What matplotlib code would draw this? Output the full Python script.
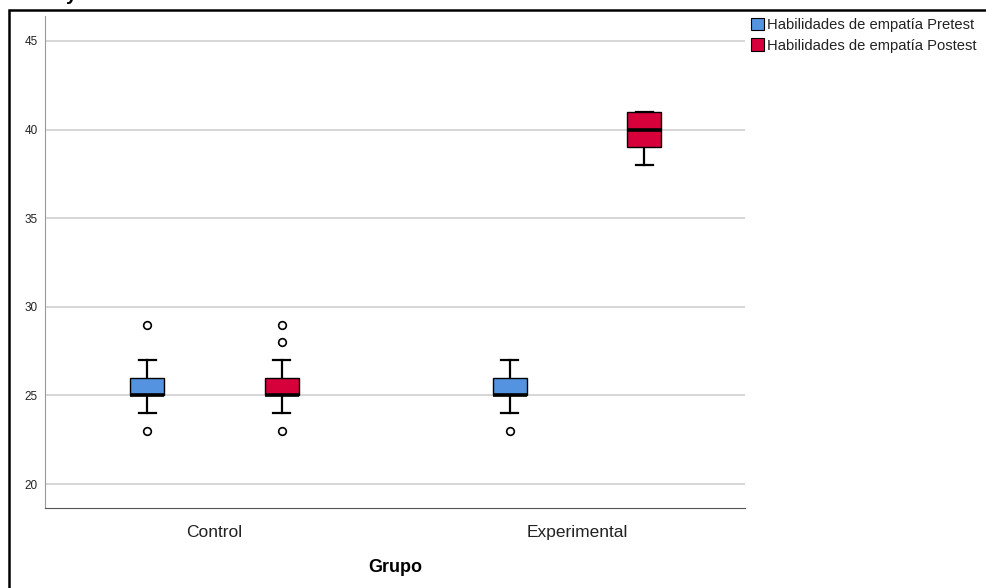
import matplotlib
matplotlib.use("Agg")
import matplotlib.pyplot as plt
from matplotlib.patches import Patch, Rectangle

plt.rcParams['font.family'] = ['Liberation Sans', 'DejaVu Sans']

groups = ["Control", "Experimental"]
series = ["Habilidades de empatía Pretest", "Habilidades de empatía Postest"]
colors = ["#5393e0", "#d6003a"]

# [group][series] -> (whislo, q1, med, q3, whishi, fliers)
whislo = [[24, 24], [24, 38]]
q1 = [[25, 25], [25, 39]]
med = [[25, 25], [25, 40]]
q3 = [[26, 26], [26, 41]]
whishi = [[27, 27], [27, 41]]
fliers = [[[29, 23], [29, 28, 23]], [[23], []]]

yticks = [20, 25, 30, 35, 40, 45]

fig = plt.figure(figsize=(9.86, 5.88), dpi=100)
W, H = 986, 588
ax = fig.add_axes([45 / W, (H - 508) / H, 700 / W, (508 - 16) / H])

offset = 0.185
bw = 0.094
for gi in range(len(groups)):
    for si in range(len(series)):
        st = dict(whislo=whislo[gi][si], q1=q1[gi][si], med=med[gi][si],
                  q3=q3[gi][si], whishi=whishi[gi][si], fliers=fliers[gi][si])
        pos = gi + (si - 0.5) * 2 * offset
        art = ax.bxp([st], positions=[pos], widths=[bw], capwidths=[bw / 2],
                     patch_artist=True, showfliers=True, manage_ticks=False,
                     boxprops=dict(facecolor=colors[si], edgecolor='black', linewidth=1.0),
                     medianprops=dict(color='black', linewidth=2.6),
                     whiskerprops=dict(color='black', linewidth=1.6),
                     capprops=dict(color='black', linewidth=1.6),
                     flierprops=dict(marker='o', markersize=5.5, markerfacecolor='white',
                                     markeredgecolor='black', markeredgewidth=1.2),
                     zorder=3)
        for b in art['boxes']:
            b.set_zorder(4)
        for m in art['medians']:
            m.set_zorder(5)

ax.set_xlim(-0.4676, 1.4634)
ax.set_ylim(18.646, 46.41)
ax.set_yticks(yticks)
ax.set_yticklabels([str(t) for t in yticks], fontsize=8.5, color='#222222')
ax.set_xticks(range(len(groups)))
ax.set_xticklabels(groups, fontsize=12.5, color='#222222')
ax.tick_params(axis='both', length=0)
ax.tick_params(axis='y', pad=5)
ax.tick_params(axis='x', pad=12)
ax.grid(axis='y', color='#d0d0d0', linewidth=1.2, zorder=0)
ax.set_axisbelow(True)
for s in ['top', 'right']:
    ax.spines[s].set_visible(False)
ax.spines['left'].set_color('#999999')
ax.spines['bottom'].set_color('#555555')
ax.set_xlabel("Grupo", fontsize=13, fontweight='bold', labelpad=14)

handles = [Patch(facecolor=c, edgecolor='black', linewidth=0.8) for c in colors]
fig.legend(handles, series, loc='upper left', bbox_to_anchor=(751 / W, 1 - 18 / H),
           frameon=False, fontsize=10.6, handlelength=0.85, handleheight=0.9,
           handletextpad=0.25, labelspacing=0.42, borderpad=0, borderaxespad=0,
           labelcolor='#222222')

# outer frame
fig.add_artist(Rectangle((9 / W, -0.05), 1.2, 1 - 9.5 / H + 0.05, transform=fig.transFigure,
                         fill=False, edgecolor='black', linewidth=1.8))
# clipped title remnant (cut off at the top edge, as in the reference)
fig.text(66 / W, 1.0, "y", fontsize=14, fontweight='bold', ha='left', va='baseline')

fig.savefig("out.png", dpi=100)
